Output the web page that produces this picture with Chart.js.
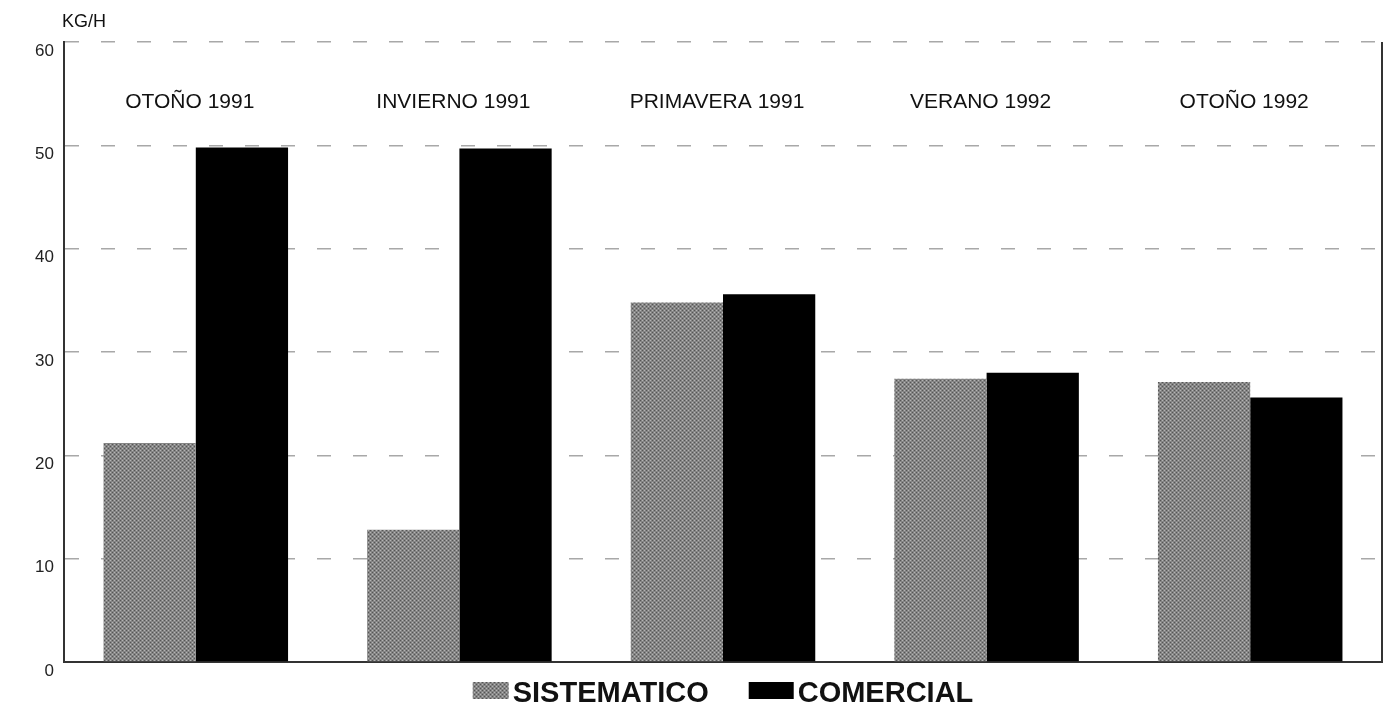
<!DOCTYPE html>
<html>
<head>
<meta charset="utf-8">
<script src="https://cdn.jsdelivr.net/npm/chart.js@4/dist/chart.umd.min.js"></script>
<style>
  html, body { margin: 0; padding: 0; background: #fff; }
  #wrap { width: 1391px; height: 713px; }
</style>
</head>
<body>
<div id="wrap"><canvas id="chart" width="1391" height="713"></canvas></div>
<script>
const seasons = ['OTOÑO 1991', 'INVIERNO 1991', 'PRIMAVERA 1991', 'VERANO 1992', 'OTOÑO 1992'];
const sistematico = [21.2, 12.8, 34.8, 27.4, 27.1];
const comercial = [49.8, 49.7, 35.6, 28.0, 25.6];
const yTicks = [0, 10, 20, 30, 40, 50, 60];
const yUnit = 'KG/H';

// grey dithered fill for the "sistematico" bars
function makeGreyPattern() {
    const c = document.createElement('canvas');
    c.width = 4; c.height = 4;
    const g = c.getContext('2d');
    g.fillStyle = '#858585';
    g.fillRect(0, 0, 4, 4);
    g.fillStyle = '#555';
    g.fillRect(0, 0, 1, 1);
    g.fillRect(2, 2, 1, 1);
    g.fillStyle = '#b5b5b5';
    g.fillRect(2, 0, 1, 1);
    g.fillRect(0, 2, 1, 1);
    return g.createPattern(c, 'repeat');
}

const ctx = document.getElementById('chart').getContext('2d');
const greyFill = makeGreyPattern();
const FONT = '"Liberation Sans", Arial, sans-serif';

// season names inside the plot, unit label, right border and the legend row
const extras = {
    id: 'extras',
    afterDraw(chart) {
        const { ctx, chartArea, scales } = chart;
        ctx.save();
        ctx.fillStyle = '#111';
        ctx.font = '21px ' + FONT;
        ctx.textAlign = 'center';
        ctx.textBaseline = 'middle';
        seasons.forEach((s, i) => {
            ctx.fillText(s, scales.x.getPixelForValue(i) - 6, scales.y.getPixelForValue(54.2));
        });
        ctx.textAlign = 'left';
        ctx.font = '18px ' + FONT;
        ctx.fillText(yUnit, chartArea.left - 2, 22);

        ctx.strokeStyle = '#333';
        ctx.lineWidth = 2;
        ctx.beginPath();
        ctx.moveTo(chartArea.right, chartArea.top);
        ctx.lineTo(chartArea.right, chartArea.bottom);
        ctx.stroke();

        // legend: box hugging its label, wide gap between entries
        ctx.font = 'bold 29px ' + FONT;
        ctx.textBaseline = 'alphabetic';
        const boxW = [36, 45];
        const gap = 40;
        const items = chart.data.datasets.map((ds, i) => ({
            label: ds.label, fill: ds.backgroundColor, w: boxW[i],
            tw: ctx.measureText(ds.label).width
        }));
        const total = items.reduce((a, it) => a + it.w + 4 + it.tw, 0) + gap;
        let x = 723 - total / 2;
        items.forEach(it => {
            ctx.fillStyle = it.fill;
            ctx.fillRect(x, 682, it.w, 17);
            x += it.w + 4;
            ctx.fillStyle = '#111';
            ctx.fillText(it.label, x, 702);
            x += it.tw + gap;
        });
        ctx.restore();
    }
};

new Chart(ctx, {
    type: 'bar',
    data: {
        labels: seasons,
        datasets: [
            {
                label: 'SISTEMATICO',
                data: sistematico,
                backgroundColor: greyFill,
                borderWidth: 0,
                barPercentage: 1.0,
                categoryPercentage: 0.7
            },
            {
                label: 'COMERCIAL',
                data: comercial,
                backgroundColor: '#000',
                borderWidth: 0,
                barPercentage: 1.0,
                categoryPercentage: 0.7
            }
        ]
    },
    options: {
        responsive: false,
        animation: false,
        layout: { padding: { top: 42, right: 9, left: 0, bottom: 43 } },
        scales: {
            x: {
                grid: { display: false },
                border: { display: true, color: '#333', width: 2 },
                ticks: { display: false }
            },
            y: {
                min: 0,
                max: 60,
                afterBuildTicks(scale) {
                    scale.ticks = yTicks.map(v => ({ value: v }));
                },
                afterFit(scale) { scale.width = 64; },
                grid: {
                    color: '#a8a8a8',
                    lineWidth: 1.5,
                    drawTicks: false
                },
                border: { display: true, color: '#333', width: 2, dash: [14, 22] },
                ticks: {
                    color: '#222',
                    padding: 10,
                    labelOffset: 9,
                    font: { size: 17, family: FONT }
                }
            }
        },
        plugins: {
            legend: { display: false },
            tooltip: { enabled: false }
        }
    },
    plugins: [extras]
});
</script>
</body>
</html>
